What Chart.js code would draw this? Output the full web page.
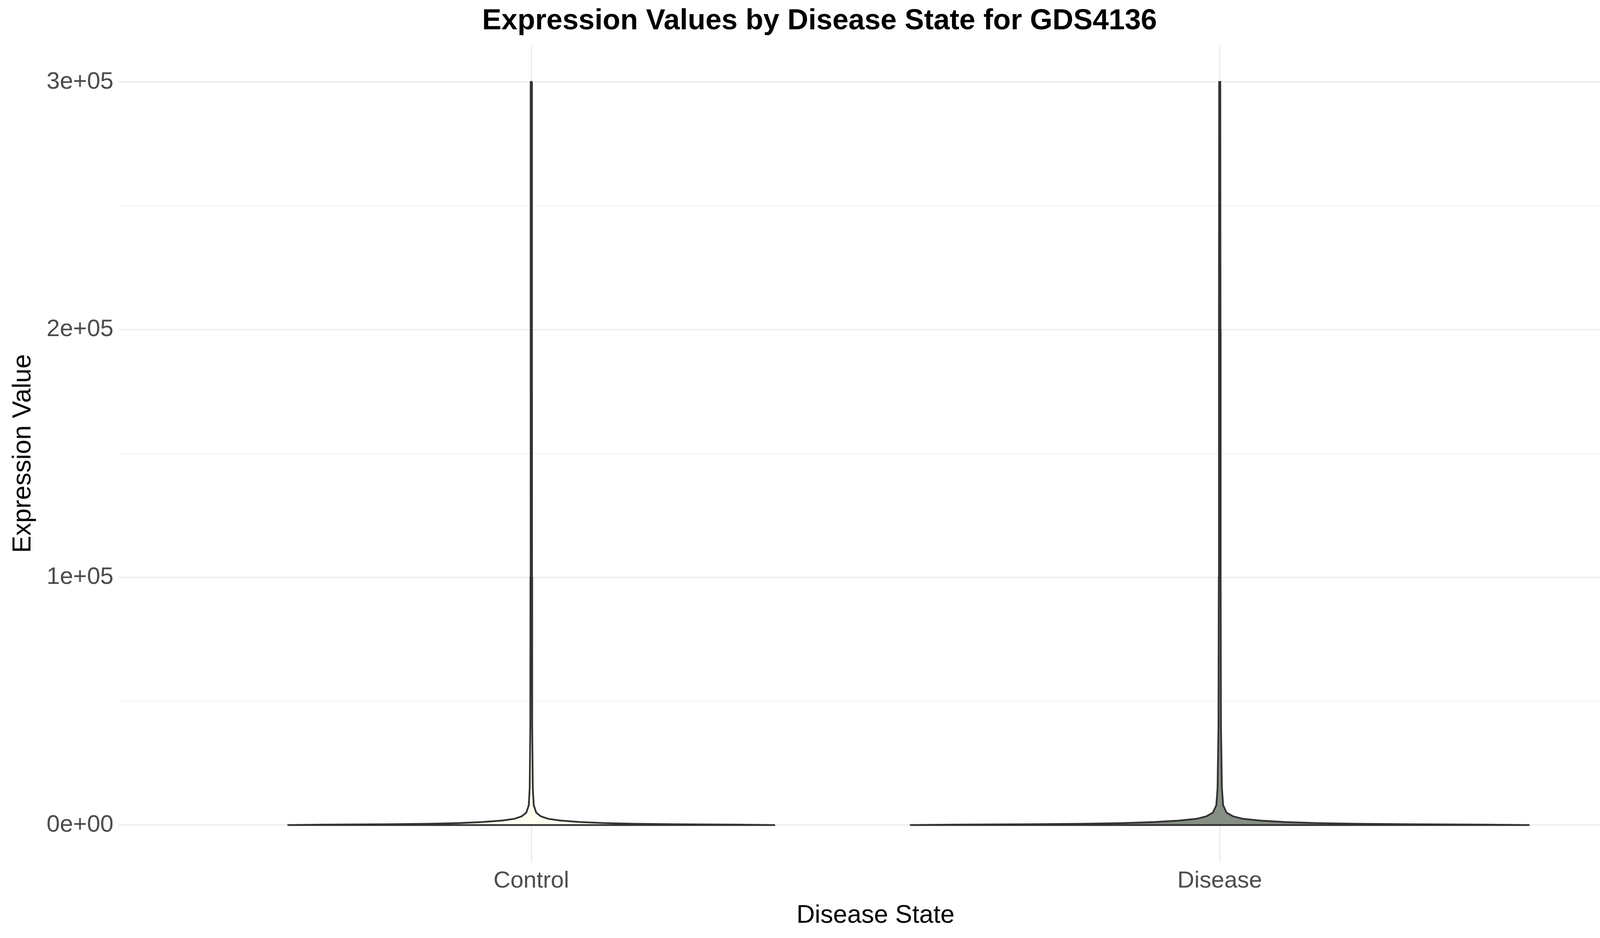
<!DOCTYPE html>
<html><head><meta charset="utf-8">
<script src="https://cdn.jsdelivr.net/npm/chart.js@4"></script>
<style>body{margin:0;background:#fff}canvas{display:block}</style>
</head><body>
<canvas id="c" width="4200" height="2400"></canvas>
<script>
const categories = ["Control", "Disease"];
const densityValues = [0, 150, 300, 500, 800, 1200, 1800, 2500, 3500, 5000, 8000, 15000, 40000, 100000, 200000, 300000];
const controlDensity = [0.787, 0.67, 0.47, 0.33, 0.236, 0.157, 0.094, 0.055, 0.031, 0.016, 0.008, 0.005, 0.003, 0.0025, 0.0022, 0.0015];
const diseaseDensity = [1.0, 0.86, 0.62, 0.44, 0.31, 0.21, 0.13, 0.075, 0.043, 0.022, 0.011, 0.007, 0.004, 0.003, 0.0025, 0.0018];
const yTicks = [0, 100000, 200000, 300000];
const yTickLabels = ["0e+00", "1e+05", "2e+05", "3e+05"];

const MAXHALF = 0.45;
function violin(center, dens) {
  const left = densityValues.map((v, i) => ({x: center - dens[i] * MAXHALF, y: v}));
  const right = densityValues.map((v, i) => ({x: center + dens[i] * MAXHALF, y: v})).reverse();
  const pts = left.concat(right);
  pts.push(pts[0]);
  return pts;
}
const fills = ["#FFFFF0", "#878F85"];
const datasets = [controlDensity, diseaseDensity].map((d, i) => ({
  data: violin(i + 1, d), showLine: true, pointRadius: 0, tension: 0,
  borderColor: "#333333", borderWidth: 4.5, backgroundColor: fills[i], fill: 'shape'
}));

new Chart(document.getElementById('c'), {
  type: 'scatter',
  data: {datasets},
  options: {
    responsive: false, devicePixelRatio: 1, animation: false,
    layout: {padding: {top: 6, right: 20, bottom: 14, left: 16}},
    plugins: {
      legend: {display: false}, tooltip: {enabled: false},
      title: {display: true, text: "Expression Values by Disease State for GDS4136",
        color: "#000", font: {family: "Liberation Sans", size: 74, weight: 'bold'}, padding: {top: 4, bottom: 16}}
    },
    scales: {
      x: {
        type: 'linear', min: 0.4, max: 2.6,
        afterBuildTicks: ax => { ax.ticks = [{value: 1}, {value: 2}]; },
        ticks: {callback: v => categories[v - 1] || "", color: "#4D4D4D",
          font: {family: "Liberation Sans", size: 60}, padding: 12},
        grid: {color: "#EBEBEB", lineWidth: 3, drawTicks: false},
        border: {display: false},
        title: {display: true, text: "Disease State", color: "#000",
          font: {family: "Liberation Sans", size: 65}, padding: {top: 2}}
      },
      y: {
        min: -15000, max: 315000,
        afterBuildTicks: ax => { ax.ticks = [0, 50000, 100000, 150000, 200000, 250000, 300000].map(v => ({value: v})); },
        ticks: {callback: v => { const k = yTicks.indexOf(v); return k >= 0 ? yTickLabels[k] : ""; },
          color: "#4D4D4D", font: {family: "Liberation Sans", size: 61}, padding: 12},
        grid: {color: c => (c.tick && c.tick.value % 100000 === 0) ? "#EBEBEB" : "#F5F5F5", lineWidth: 3, drawTicks: false},
        border: {display: false},
        title: {display: true, text: "Expression Value", color: "#000",
          font: {family: "Liberation Sans", size: 66}, padding: {bottom: 8}}
      }
    }
  }
});
</script>
</body></html>
